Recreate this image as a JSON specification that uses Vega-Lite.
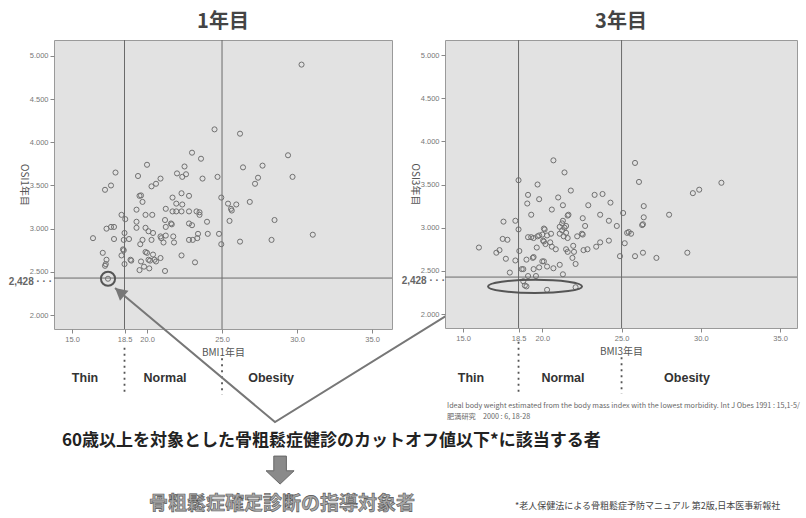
{
 "$schema": "https://vega.github.io/schema/vega-lite/v6.json",
 "bounds": "flush",
 "spacing": 53,
 "padding": {"left": 8, "top": 11, "right": 0, "bottom": 0},
 "background": "white",
 "config": {
  "font": "Noto Sans CJK JP",
  "view": {"fill": "#e2e2e2", "stroke": "#9a9a9a", "strokeWidth": 1},
  "axis": {"grid": false, "domain": false, "tickColor": "#888", "tickSize": 4, "labelFontSize": 7.5, "labelColor": "#777", "titleFontSize": 10, "titleColor": "#555", "titleFontWeight": "normal", "labelFont": "Liberation Sans"},
  "title": {"fontSize": 20, "fontWeight": "bold", "color": "#444", "offset": 8}
 },
 "datasets": {
  "p1": [
   {"bmi":30.3,"osi":4.90},{"bmi":24.5,"osi":4.15},{"bmi":26.2,"osi":4.10},{"bmi":29.4,"osi":3.85},{"bmi":29.7,"osi":3.60},
   {"bmi":26.4,"osi":3.71},{"bmi":27.7,"osi":3.73},{"bmi":27.4,"osi":3.59},{"bmi":27.2,"osi":3.52},{"bmi":23.0,"osi":3.88},
   {"bmi":23.6,"osi":3.81},{"bmi":20.0,"osi":3.74},{"bmi":22.5,"osi":3.72},{"bmi":22.0,"osi":3.64},{"bmi":22.35,"osi":3.60},
   {"bmi":22.6,"osi":3.63},{"bmi":23.7,"osi":3.58},{"bmi":24.7,"osi":3.60},{"bmi":17.9,"osi":3.65},{"bmi":17.6,"osi":3.50},
   {"bmi":17.2,"osi":3.45},{"bmi":19.4,"osi":3.61},{"bmi":20.9,"osi":3.58},{"bmi":20.6,"osi":3.52},{"bmi":20.3,"osi":3.49},
   {"bmi":19.5,"osi":3.38},{"bmi":19.6,"osi":3.385},{"bmi":21.7,"osi":3.36},{"bmi":22.3,"osi":3.41},{"bmi":22.8,"osi":3.38},
   {"bmi":24.95,"osi":3.36},{"bmi":18.3,"osi":3.16},{"bmi":18.55,"osi":3.11},{"bmi":19.3,"osi":3.22},{"bmi":19.7,"osi":3.31},
   {"bmi":19.9,"osi":3.16},{"bmi":20.35,"osi":3.16},{"bmi":21.25,"osi":3.23},{"bmi":21.95,"osi":3.29},{"bmi":22.35,"osi":3.28},
   {"bmi":21.7,"osi":3.20},{"bmi":21.95,"osi":3.20},{"bmi":22.3,"osi":3.20},{"bmi":21.2,"osi":3.10},{"bmi":22.8,"osi":3.20},
   {"bmi":23.3,"osi":3.20},{"bmi":23.5,"osi":3.19},{"bmi":23.5,"osi":3.16},{"bmi":24.0,"osi":3.08},{"bmi":25.4,"osi":3.29},
   {"bmi":25.6,"osi":3.23},{"bmi":25.65,"osi":3.21},{"bmi":25.95,"osi":3.28},{"bmi":26.85,"osi":3.31},{"bmi":25.5,"osi":3.09},
   {"bmi":28.5,"osi":3.10},{"bmi":19.3,"osi":3.08},{"bmi":21.6,"osi":3.06},{"bmi":21.65,"osi":3.05},{"bmi":22.8,"osi":3.06},
   {"bmi":23.0,"osi":3.04},{"bmi":19.3,"osi":3.01},{"bmi":19.9,"osi":3.01},{"bmi":20.1,"osi":2.97},{"bmi":20.4,"osi":2.95},
   {"bmi":21.25,"osi":3.02},{"bmi":17.3,"osi":3.00},{"bmi":17.6,"osi":3.02},{"bmi":17.8,"osi":3.02},{"bmi":16.4,"osi":2.89},
   {"bmi":18.5,"osi":2.95},{"bmi":17.8,"osi":2.88},{"bmi":18.45,"osi":2.87},{"bmi":18.8,"osi":2.88},{"bmi":20.9,"osi":2.91},
   {"bmi":20.95,"osi":2.89},{"bmi":19.7,"osi":2.87},{"bmi":20.3,"osi":2.87},{"bmi":21.25,"osi":2.92},{"bmi":21.75,"osi":2.91},
   {"bmi":21.8,"osi":2.84},{"bmi":21.1,"osi":2.84},{"bmi":22.8,"osi":2.87},{"bmi":23.05,"osi":2.87},{"bmi":23.35,"osi":2.89},
   {"bmi":23.4,"osi":2.94},{"bmi":24.05,"osi":2.94},{"bmi":24.8,"osi":2.94},{"bmi":24.95,"osi":2.82},{"bmi":26.2,"osi":2.85},
   {"bmi":28.3,"osi":2.87},{"bmi":31.05,"osi":2.93},{"bmi":19.55,"osi":2.82},{"bmi":18.4,"osi":2.76},{"bmi":18.45,"osi":2.75},
   {"bmi":18.3,"osi":2.69},{"bmi":17.05,"osi":2.72},{"bmi":17.3,"osi":2.64},{"bmi":17.25,"osi":2.59},{"bmi":17.2,"osi":2.57},
   {"bmi":18.5,"osi":2.59},{"bmi":18.9,"osi":2.64},{"bmi":18.95,"osi":2.63},{"bmi":19.9,"osi":2.73},{"bmi":20.0,"osi":2.72},
   {"bmi":19.6,"osi":2.62},{"bmi":19.5,"osi":2.52},{"bmi":19.8,"osi":2.56},{"bmi":20.1,"osi":2.64},{"bmi":20.2,"osi":2.63},
   {"bmi":20.15,"osi":2.54},{"bmi":20.5,"osi":2.64},{"bmi":20.6,"osi":2.62},{"bmi":20.4,"osi":2.70},{"bmi":20.9,"osi":2.66},
   {"bmi":21.2,"osi":2.51},{"bmi":22.3,"osi":2.69},{"bmi":23.2,"osi":2.61},{"bmi":17.4,"osi":2.42}
  ],
  "p3": [
   {"bmi":20.7,"osi":3.78},{"bmi":21.4,"osi":3.64},{"bmi":25.85,"osi":3.75},{"bmi":26.1,"osi":3.53},{"bmi":18.5,"osi":3.55},
   {"bmi":19.7,"osi":3.50},{"bmi":19.1,"osi":3.38},{"bmi":21.0,"osi":3.35},{"bmi":21.8,"osi":3.43},{"bmi":23.3,"osi":3.38},
   {"bmi":23.8,"osi":3.39},{"bmi":29.5,"osi":3.40},{"bmi":29.9,"osi":3.44},{"bmi":31.3,"osi":3.52},{"bmi":19.8,"osi":3.33},
   {"bmi":19.05,"osi":3.28},{"bmi":19.3,"osi":3.15},{"bmi":20.6,"osi":3.21},{"bmi":21.3,"osi":3.26},{"bmi":21.6,"osi":3.14},
   {"bmi":21.65,"osi":3.15},{"bmi":22.9,"osi":3.26},{"bmi":22.55,"osi":3.11},{"bmi":24.3,"osi":3.29},{"bmi":23.65,"osi":3.15},
   {"bmi":24.2,"osi":3.08},{"bmi":24.7,"osi":3.02},{"bmi":25.1,"osi":3.17},{"bmi":26.4,"osi":3.25},{"bmi":26.4,"osi":3.12},
   {"bmi":26.3,"osi":3.03},{"bmi":26.35,"osi":3.04},{"bmi":28.0,"osi":3.15},{"bmi":25.35,"osi":2.94},{"bmi":25.45,"osi":2.95},
   {"bmi":25.6,"osi":2.93},{"bmi":25.2,"osi":2.82},{"bmi":24.9,"osi":2.67},{"bmi":25.85,"osi":2.67},{"bmi":26.35,"osi":2.71},
   {"bmi":27.2,"osi":2.65},{"bmi":29.15,"osi":2.71},{"bmi":18.5,"osi":2.98},{"bmi":18.3,"osi":3.08},{"bmi":17.55,"osi":3.07},
   {"bmi":17.5,"osi":2.87},{"bmi":17.8,"osi":2.86},{"bmi":16.0,"osi":2.77},{"bmi":17.3,"osi":2.74},{"bmi":17.1,"osi":2.71},
   {"bmi":17.7,"osi":2.64},{"bmi":18.3,"osi":2.62},{"bmi":18.55,"osi":2.73},{"bmi":17.95,"osi":2.48},{"bmi":18.7,"osi":2.52},
   {"bmi":18.8,"osi":2.52},{"bmi":19.0,"osi":2.63},{"bmi":19.4,"osi":2.65},{"bmi":19.45,"osi":2.66},{"bmi":19.1,"osi":2.44},
   {"bmi":19.45,"osi":2.52},{"bmi":19.6,"osi":2.44},{"bmi":19.8,"osi":2.54},{"bmi":20.3,"osi":2.55},{"bmi":20.7,"osi":2.53},
   {"bmi":20.0,"osi":2.61},{"bmi":20.1,"osi":2.61},{"bmi":21.3,"osi":2.46},{"bmi":21.1,"osi":2.57},{"bmi":21.9,"osi":2.65},
   {"bmi":22.1,"osi":2.58},{"bmi":18.8,"osi":2.38},{"bmi":18.9,"osi":2.33},{"bmi":19.0,"osi":2.32},{"bmi":20.3,"osi":2.28},
   {"bmi":22.1,"osi":2.31},{"bmi":19.1,"osi":2.89},{"bmi":19.3,"osi":2.89},{"bmi":19.45,"osi":2.88},{"bmi":19.7,"osi":2.90},
   {"bmi":19.8,"osi":2.91},{"bmi":20.1,"osi":2.99},{"bmi":20.15,"osi":2.98},{"bmi":20.0,"osi":2.92},{"bmi":20.05,"osi":2.85},
   {"bmi":20.1,"osi":2.84},{"bmi":20.3,"osi":2.91},{"bmi":20.2,"osi":2.81},{"bmi":19.65,"osi":2.77},{"bmi":20.5,"osi":2.83},
   {"bmi":20.55,"osi":2.93},{"bmi":20.6,"osi":2.78},{"bmi":20.85,"osi":2.75},{"bmi":21.1,"osi":3.01},{"bmi":21.1,"osi":2.93},
   {"bmi":21.25,"osi":3.05},{"bmi":21.3,"osi":3.08},{"bmi":21.4,"osi":3.00},{"bmi":21.5,"osi":2.94},{"bmi":21.6,"osi":2.88},
   {"bmi":21.35,"osi":2.90},{"bmi":21.25,"osi":2.97},{"bmi":21.5,"osi":3.02},{"bmi":21.5,"osi":2.75},{"bmi":21.6,"osi":2.72},
   {"bmi":21.95,"osi":2.79},{"bmi":22.2,"osi":2.90},{"bmi":22.5,"osi":2.93},{"bmi":22.55,"osi":2.92},{"bmi":22.7,"osi":3.02},
   {"bmi":22.6,"osi":2.74},{"bmi":22.85,"osi":2.75},{"bmi":23.4,"osi":2.78},{"bmi":23.65,"osi":2.83},{"bmi":24.2,"osi":2.85},
   {"bmi":22.0,"osi":2.72}
  ],
  "cuts": [{"bmi":18.5},{"bmi":25}],
  "thr": [{"osi":2.428}]
 },
 "hconcat": [
  {
   "width": 338, "height": 289,
   "title": "1年目",
   "layer": [
    {"data": {"name": "p1"},
     "mark": {"type": "point", "size": 26, "stroke": "#707070", "strokeWidth": 1, "filled": false, "opacity": 1},
     "encoding": {
      "x": {"field": "bmi", "type": "quantitative", "scale": {"domain": [13.8, 36.33], "nice": false, "zero": false},
            "axis": {"values": [15, 18.5, 20, 25, 30, 35], "format": ".1f", "title": "BMI1年目", "titlePadding": 5}},
      "y": {"field": "osi", "type": "quantitative", "scale": {"domain": [1.838, 5.185], "nice": false, "zero": false},
            "axis": {"values": [2, 2.5, 3, 3.5, 4, 4.5, 5], "format": ".3f", "title": "OSI1年目", "titleAngle": 90, "titleBaseline": "top", "titlePadding": 1}}
     }},
    {"data": {"name": "cuts"},
     "mark": {"type": "rule", "color": "#6a6a6a", "strokeWidth": 1},
     "encoding": {"x": {"field": "bmi", "type": "quantitative", "scale": {"domain": [13.8, 36.33], "nice": false, "zero": false}}}},
    {"data": {"name": "thr"},
     "mark": {"type": "rule", "color": "#6a6a6a", "strokeWidth": 1},
     "encoding": {"y": {"field": "osi", "type": "quantitative", "scale": {"domain": [1.838, 5.185], "nice": false, "zero": false}}}},
    {"data": {"values": [{"bmi": 17.4, "osi": 2.42}]},
     "mark": {"type": "point", "size": 200, "stroke": "#555", "strokeWidth": 2, "filled": false, "opacity": 1},
     "encoding": {
      "x": {"field": "bmi", "type": "quantitative", "scale": {"domain": [13.8, 36.33], "nice": false, "zero": false}},
      "y": {"field": "osi", "type": "quantitative", "scale": {"domain": [1.838, 5.185], "nice": false, "zero": false}}}},
    {"data": {"values": [{"bmi": 18.5, "osi": 1.62, "osi2": 1.08}, {"bmi": 25, "osi": 1.50, "osi2": 1.08}]},
     "mark": {"type": "rule", "color": "#555", "strokeWidth": 1.8, "strokeDash": [2, 4]},
     "encoding": {
      "x": {"field": "bmi", "type": "quantitative", "scale": {"domain": [13.8, 36.33], "nice": false, "zero": false}},
      "y": {"field": "osi", "type": "quantitative", "scale": {"domain": [1.838, 5.185], "nice": false, "zero": false}},
      "y2": {"field": "osi2"}}},
    {"data": {"values": [{"label": "2,428 · · ·", "bmi": 13.67, "osi": 2.385}]},
     "mark": {"type": "text", "align": "right", "baseline": "middle", "fontSize": 10, "fontWeight": "bold", "color": "#666", "font": "Liberation Sans"},
     "encoding": {
      "x": {"field": "bmi", "type": "quantitative", "scale": {"domain": [13.8, 36.33], "nice": false, "zero": false}},
      "y": {"field": "osi", "type": "quantitative", "scale": {"domain": [1.838, 5.185], "nice": false, "zero": false}},
      "text": {"field": "label"}}},
    {"data": {"values": [{"label": "Thin", "bmi": 15.87, "osi": 1.27}, {"label": "Normal", "bmi": 21.2, "osi": 1.27}, {"label": "Obesity", "bmi": 28.27, "osi": 1.27}]},
     "mark": {"type": "text", "align": "center", "baseline": "middle", "fontSize": 12.5, "fontWeight": "bold", "color": "#333", "font": "Liberation Sans"},
     "encoding": {
      "x": {"field": "bmi", "type": "quantitative", "scale": {"domain": [13.8, 36.33], "nice": false, "zero": false}},
      "y": {"field": "osi", "type": "quantitative", "scale": {"domain": [1.838, 5.185], "nice": false, "zero": false}},
      "text": {"field": "label"}}},
    {"data": {"values": [{"o": 1, "bmi": 17.87, "osi": 2.313}, {"o": 2, "bmi": 28.53, "osi": 0.76}, {"o": 3, "bmi": 42.73, "osi": 2.29}]},
     "mark": {"type": "line", "color": "#777", "strokeWidth": 2},
     "encoding": {
      "x": {"field": "bmi", "type": "quantitative", "scale": {"domain": [13.8, 36.33], "nice": false, "zero": false}},
      "y": {"field": "osi", "type": "quantitative", "scale": {"domain": [1.838, 5.185], "nice": false, "zero": false}},
      "order": {"field": "o"}}},
    {"data": {"values": [{"bmi": 17.87, "osi": 2.313}]},
     "mark": {"type": "point", "shape": "M0,0 L-0.55,1 L0.55,1 Z", "size": 576, "angle": -50, "filled": true, "color": "#777", "opacity": 1},
     "encoding": {
      "x": {"field": "bmi", "type": "quantitative", "scale": {"domain": [13.8, 36.33], "nice": false, "zero": false}},
      "y": {"field": "osi", "type": "quantitative", "scale": {"domain": [1.838, 5.185], "nice": false, "zero": false}}}},
    {"data": {"values": [{"bmi": 42.73, "osi": 2.29}]},
     "mark": {"type": "point", "shape": "M0,0 L-0.55,1 L0.55,1 Z", "size": 576, "angle": 58, "filled": true, "color": "#777", "opacity": 1},
     "encoding": {
      "x": {"field": "bmi", "type": "quantitative", "scale": {"domain": [13.8, 36.33], "nice": false, "zero": false}},
      "y": {"field": "osi", "type": "quantitative", "scale": {"domain": [1.838, 5.185], "nice": false, "zero": false}}}},
    {"data": {"values": [{"label": "60歳以上を対象とした骨粗鬆症健診のカットオフ値以下*に該当する者", "bmi": 14.33, "osi": 0.54}]},
     "mark": {"type": "text", "align": "left", "baseline": "middle", "fontSize": 17, "fontWeight": "bold", "color": "#222"},
     "encoding": {
      "x": {"field": "bmi", "type": "quantitative", "scale": {"domain": [13.8, 36.33], "nice": false, "zero": false}},
      "y": {"field": "osi", "type": "quantitative", "scale": {"domain": [1.838, 5.185], "nice": false, "zero": false}},
      "text": {"field": "label"}}},
    {"data": {"values": [{"bmi": 28.87, "osi": 0.204}]},
     "mark": {"type": "point", "shape": "M-0.45,-1 L0.45,-1 L0.45,0.05 L1,0.05 L0,1 L-1,0.05 L-0.45,0.05 Z", "size": 784, "filled": true, "fill": "#8a8a8a", "stroke": "#666", "strokeWidth": 1, "opacity": 1},
     "encoding": {
      "x": {"field": "bmi", "type": "quantitative", "scale": {"domain": [13.8, 36.33], "nice": false, "zero": false}},
      "y": {"field": "osi", "type": "quantitative", "scale": {"domain": [1.838, 5.185], "nice": false, "zero": false}}}},
    {"data": {"values": [{"label": "骨粗鬆症確定診断の指導対象者", "bmi": 29.0, "osi": -0.19}]},
     "mark": {"type": "text", "align": "center", "baseline": "middle", "fontSize": 19, "fontWeight": "bold", "fill": "#a8a8a8", "stroke": "#555", "strokeWidth": 0.6},
     "encoding": {
      "x": {"field": "bmi", "type": "quantitative", "scale": {"domain": [13.8, 36.33], "nice": false, "zero": false}},
      "y": {"field": "osi", "type": "quantitative", "scale": {"domain": [1.838, 5.185], "nice": false, "zero": false}},
      "text": {"field": "label"}}}
   ]
  },
  {
   "width": 352, "height": 288,
   "title": "3年目",
   "layer": [
    {"data": {"name": "p3"},
     "mark": {"type": "point", "size": 26, "stroke": "#707070", "strokeWidth": 1, "filled": false, "opacity": 1},
     "encoding": {
      "x": {"field": "bmi", "type": "quantitative", "scale": {"domain": [13.86, 36.07], "nice": false, "zero": false},
            "axis": {"values": [15, 18.5, 20, 25, 30, 35], "format": ".1f", "title": "BMI3年目", "titlePadding": 5}},
      "y": {"field": "osi", "type": "quantitative", "scale": {"domain": [1.838, 5.174], "nice": false, "zero": false},
            "axis": {"values": [2, 2.5, 3, 3.5, 4, 4.5, 5], "format": ".3f", "title": "OSI3年目", "titleAngle": 90, "titleBaseline": "top", "titlePadding": 1}}
     }},
    {"data": {"name": "cuts"},
     "mark": {"type": "rule", "color": "#6a6a6a", "strokeWidth": 1},
     "encoding": {"x": {"field": "bmi", "type": "quantitative", "scale": {"domain": [13.86, 36.07], "nice": false, "zero": false}}}},
    {"data": {"name": "thr"},
     "mark": {"type": "rule", "color": "#6a6a6a", "strokeWidth": 1},
     "encoding": {"y": {"field": "osi", "type": "quantitative", "scale": {"domain": [1.838, 5.174], "nice": false, "zero": false}}}},
    {"data": {"values": [{"bmi": 19.54, "osi": 2.32}]},
     "mark": {"type": "point", "shape": "M-1,0 A1,0.14 0 1 1 1,0 A1,0.14 0 1 1 -1,0 Z", "size": 8836, "stroke": "#555", "strokeWidth": 2, "filled": false, "opacity": 1},
     "encoding": {
      "x": {"field": "bmi", "type": "quantitative", "scale": {"domain": [13.86, 36.07], "nice": false, "zero": false}},
      "y": {"field": "osi", "type": "quantitative", "scale": {"domain": [1.838, 5.174], "nice": false, "zero": false}}}},
    {"data": {"values": [{"bmi": 18.5, "osi": 1.68, "osi2": 1.08}, {"bmi": 25, "osi": 1.50, "osi2": 1.08}]},
     "mark": {"type": "rule", "color": "#555", "strokeWidth": 1.8, "strokeDash": [2, 4]},
     "encoding": {
      "x": {"field": "bmi", "type": "quantitative", "scale": {"domain": [13.86, 36.07], "nice": false, "zero": false}},
      "y": {"field": "osi", "type": "quantitative", "scale": {"domain": [1.838, 5.174], "nice": false, "zero": false}},
      "y2": {"field": "osi2"}}},
    {"data": {"values": [{"label": "2,428 · · ·", "bmi": 13.86, "osi": 2.385}]},
     "mark": {"type": "text", "align": "right", "baseline": "middle", "fontSize": 10, "fontWeight": "bold", "color": "#666", "font": "Liberation Sans"},
     "encoding": {
      "x": {"field": "bmi", "type": "quantitative", "scale": {"domain": [13.86, 36.07], "nice": false, "zero": false}},
      "y": {"field": "osi", "type": "quantitative", "scale": {"domain": [1.838, 5.174], "nice": false, "zero": false}},
      "text": {"field": "label"}}},
    {"data": {"values": [{"label": "Thin", "bmi": 15.5, "osi": 1.258}, {"label": "Normal", "bmi": 21.3, "osi": 1.258}, {"label": "Obesity", "bmi": 29.13, "osi": 1.258}]},
     "mark": {"type": "text", "align": "center", "baseline": "middle", "fontSize": 12.5, "fontWeight": "bold", "color": "#333", "font": "Liberation Sans"},
     "encoding": {
      "x": {"field": "bmi", "type": "quantitative", "scale": {"domain": [13.86, 36.07], "nice": false, "zero": false}},
      "y": {"field": "osi", "type": "quantitative", "scale": {"domain": [1.838, 5.174], "nice": false, "zero": false}},
      "text": {"field": "label"}}},
    {"data": {"values": [
       {"label": "Ideal body weight estimated from the body mass index with the lowest morbidity. Int J Obes 1991 : 15,1-5/", "bmi": 13.99, "osi": 0.934},
       {"label": "肥満研究　2000 : 6, 18-28", "bmi": 13.99, "osi": 0.806}]},
     "mark": {"type": "text", "align": "left", "baseline": "middle", "fontSize": 7.2, "color": "#666"},
     "encoding": {
      "x": {"field": "bmi", "type": "quantitative", "scale": {"domain": [13.86, 36.07], "nice": false, "zero": false}},
      "y": {"field": "osi", "type": "quantitative", "scale": {"domain": [1.838, 5.174], "nice": false, "zero": false}},
      "text": {"field": "label"}}},
    {"data": {"values": [{"label": "*老人保健法による骨粗鬆症予防マニュアル 第2版,日本医事新報社", "bmi": 18.28, "osi": -0.225}]},
     "mark": {"type": "text", "align": "left", "baseline": "middle", "fontSize": 9, "color": "#444"},
     "encoding": {
      "x": {"field": "bmi", "type": "quantitative", "scale": {"domain": [13.86, 36.07], "nice": false, "zero": false}},
      "y": {"field": "osi", "type": "quantitative", "scale": {"domain": [1.838, 5.174], "nice": false, "zero": false}},
      "text": {"field": "label"}}}
   ]
  }
 ]
}
